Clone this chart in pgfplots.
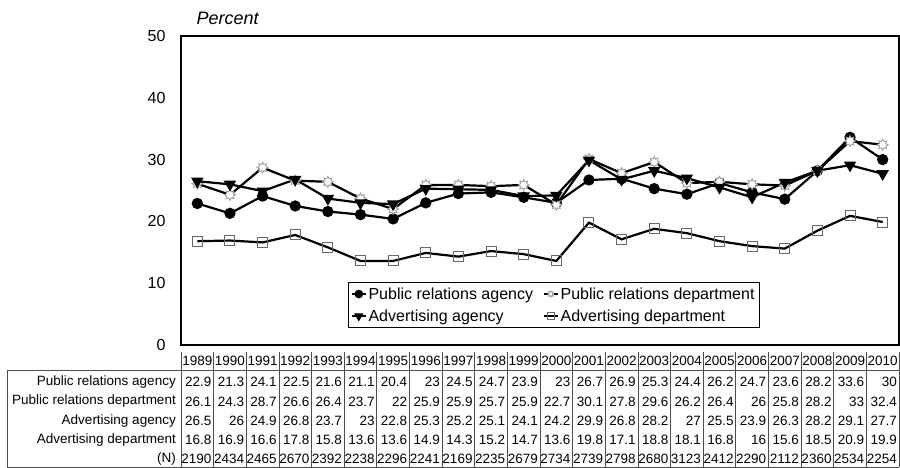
\documentclass[border=0pt]{standalone}
\usepackage{pgfplots}
\usepackage{pgfplotstable}
\pgfplotsset{compat=1.18}
\usepackage{fontspec}
\setmainfont{Liberation Sans}
\setsansfont{Liberation Sans}

% sunburst marker: star outline with 8 points
\pgfdeclareplotmark{sun}{%
  \pgfpathmoveto{\pgfpointpolar{0}{\pgfplotmarksize}}%
  \pgfpathlineto{\pgfpointpolar{22.5}{0.6\pgfplotmarksize}}%
  \pgfpathlineto{\pgfpointpolar{45}{\pgfplotmarksize}}%
  \pgfpathlineto{\pgfpointpolar{67.5}{0.6\pgfplotmarksize}}%
  \pgfpathlineto{\pgfpointpolar{90}{\pgfplotmarksize}}%
  \pgfpathlineto{\pgfpointpolar{112.5}{0.6\pgfplotmarksize}}%
  \pgfpathlineto{\pgfpointpolar{135}{\pgfplotmarksize}}%
  \pgfpathlineto{\pgfpointpolar{157.5}{0.6\pgfplotmarksize}}%
  \pgfpathlineto{\pgfpointpolar{180}{\pgfplotmarksize}}%
  \pgfpathlineto{\pgfpointpolar{202.5}{0.6\pgfplotmarksize}}%
  \pgfpathlineto{\pgfpointpolar{225}{\pgfplotmarksize}}%
  \pgfpathlineto{\pgfpointpolar{247.5}{0.6\pgfplotmarksize}}%
  \pgfpathlineto{\pgfpointpolar{270}{\pgfplotmarksize}}%
  \pgfpathlineto{\pgfpointpolar{292.5}{0.6\pgfplotmarksize}}%
  \pgfpathlineto{\pgfpointpolar{315}{\pgfplotmarksize}}%
  \pgfpathlineto{\pgfpointpolar{337.5}{0.6\pgfplotmarksize}}%
  \pgfpathclose
  \pgfusepathqfillstroke}

% idx, year, four series, sample size
\pgfplotstableread{
idx year pra  prd  aa   ad   n
0   1989 22.9 26.1 26.5 16.8 2190
1   1990 21.3 24.3 26   16.9 2434
2   1991 24.1 28.7 24.9 16.6 2465
3   1992 22.5 26.6 26.8 17.8 2670
4   1993 21.6 26.4 23.7 15.8 2392
5   1994 21.1 23.7 23   13.6 2238
6   1995 20.4 22   22.8 13.6 2296
7   1996 23   25.9 25.3 14.9 2241
8   1997 24.5 25.9 25.2 14.3 2169
9   1998 24.7 25.7 25.1 15.2 2235
10  1999 23.9 25.9 24.1 14.7 2679
11  2000 23   22.7 24.2 13.6 2734
12  2001 26.7 30.1 29.9 19.8 2739
13  2002 26.9 27.8 26.8 17.1 2798
14  2003 25.3 29.6 28.2 18.8 2680
15  2004 24.4 26.2 27   18.1 3123
16  2005 26.2 26.4 25.5 16.8 2412
17  2006 24.7 26   23.9 16   2290
18  2007 23.6 25.8 26.3 15.6 2112
19  2008 28.2 28.2 28.2 18.5 2360
20  2009 33.6 33   29.1 20.9 2534
21  2010 30   32.4 27.7 19.9 2254
}\datatable

\newcommand\tabfont{\fontsize{13.5}{15}\selectfont}
\def\cw{32.636}

\begin{document}
\begin{tikzpicture}
\useasboundingbox (-181pt,-123pt) rectangle (719pt,345pt);
\begin{axis}[
    at={(0,0)}, anchor=south west,
    scale only axis,
    width=718pt, height=309pt,
    xmin=-0.5, xmax=21.5,
    ymin=0, ymax=50,
    ytick={0,10,...,50},
    xtick=\empty,
    major tick length=0pt,
    axis line style={line width=1.8pt},
    tick label style={font=\fontsize{16}{18}\selectfont},
    /pgf/number format/assume math mode=true,
    yticklabel style={xshift=-12pt},
    clip=false,
    legend columns=2,
    legend cell align=left,
    legend style={at={(0.232,0.204)}, anchor=north west,
        font=\fontsize{16}{18}\selectfont, draw=black, line width=1pt,
        inner sep=3pt, row sep=5pt,
        /tikz/every even column/.append style={column sep=8pt}},
    legend image code/.code={
        \draw[#1, line width=1.5pt, mark=none] (0pt,0pt) -- (14pt,0pt);
        \draw[#1, mark size=3.2pt] plot coordinates {(7pt,0pt)};},
]
\addplot[black, line width=2.2pt, mark=*, mark size=4.5pt,
    mark options={solid}] table[x=idx, y=pra] {\datatable};
\addlegendentry{Public relations agency}
\addplot[black, line width=2.2pt, mark=sun, mark size=5.5pt,
    mark options={solid, draw=gray!80, fill=white, line width=0.8pt}]
    table[x=idx, y=prd] {\datatable};
\addlegendentry{Public relations department}
\addplot[black, line width=2.2pt, mark=triangle*, mark size=5pt,
    mark options={solid, rotate=180}] table[x=idx, y=aa] {\datatable};
\addlegendentry{Advertising agency}
\addplot[black, line width=2.2pt, mark=square, mark size=5pt,
    mark options={solid, draw=gray!80!black, line width=1pt}]
    table[x=idx, y=ad] {\datatable};
\addlegendentry{Advertising department}
\end{axis}

\node[anchor=west, font=\fontsize{18}{20}\selectfont\itshape] at (12pt, 327pt) {Percent};

% data table below the chart
\draw[gray!60!black, line width=0.8pt] (-174pt,-25pt) -- (718pt,-25pt);
\draw[gray!60!black, line width=0.8pt] (-174pt,-122.5pt) -- (718pt,-122.5pt);
\draw[gray!60!black, line width=0.8pt] (-174pt,-25pt) -- (-174pt,-122.5pt);
\foreach \i in {0,...,22} {
  \draw[gray!60!black, line width=0.8pt] (\i*\cw pt, -7pt) -- (\i*\cw pt, -122.5pt);
}
\foreach \lab/\yy in {Public relations agency/-37, Public relations department/-56.5,
    Advertising agency/-76, Advertising department/-95, (N)/-114} {
  \node[anchor=east, font=\tabfont, inner sep=0pt] at (-5pt, \yy pt) {\lab};
}
\foreach \i in {0,...,21} {
  \pgfplotstablegetelem{\i}{year}\of\datatable
  \node[font=\tabfont, inner sep=0pt] at ({(\i+0.5)*\cw pt}, -16pt) {\pgfplotsretval};
  \foreach \col/\yy in {pra/-37, prd/-56.5, aa/-76, ad/-95, n/-114} {
    \pgfplotstablegetelem{\i}{\col}\of\datatable
    \node[anchor=east, font=\tabfont, inner sep=0pt] at ({(\i+1)*\cw pt - 2pt}, \yy pt) {\pgfplotsretval};
  }
}
\end{tikzpicture}
\end{document}
